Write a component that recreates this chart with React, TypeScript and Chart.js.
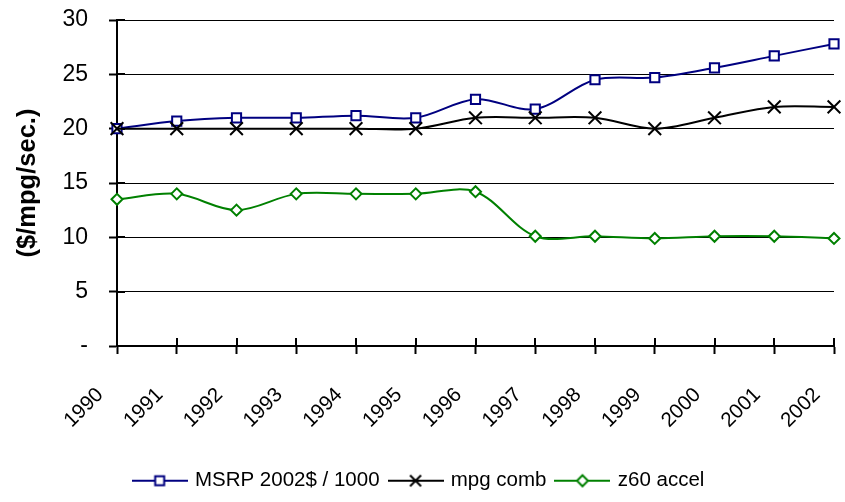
import React, { useEffect, useRef } from 'react';
import { Chart, registerables } from 'chart.js';

Chart.register(...registerables);

const years = ['1990', '1991', '1992', '1993', '1994', '1995', '1996', '1997', '1998', '1999', '2000', '2001', '2002'];
const msrp = [20.0, 20.7, 21.0, 21.0, 21.2, 21.0, 22.7, 21.8, 24.5, 24.7, 25.6, 26.7, 27.8];
const mpg = [20, 20, 20, 20, 20, 20, 21, 21, 21, 20, 21, 22, 22];
const z60 = [13.5, 14.0, 12.5, 14.0, 14.0, 14.0, 14.2, 10.1, 10.1, 9.9, 10.1, 10.1, 9.9];
const yTicks = [0, 5, 10, 15, 20, 25, 30];
const seriesNames = ['MSRP 2002$ / 1000', 'mpg comb', 'z60 accel'];
const yTitle = '($/mpg/sec.)';

const FONT = '"Liberation Sans", Arial, Helvetica, sans-serif';
const NAVY = '#000080';
const BLACK = '#000000';
const GREEN = '#008000';

function legendImage(color: string, style: string): HTMLCanvasElement {
  const c = document.createElement('canvas');
  c.width = 56;
  c.height = 16;
  const ctx = c.getContext('2d') as CanvasRenderingContext2D;
  ctx.strokeStyle = color;
  ctx.lineWidth = 2;
  ctx.beginPath();
  ctx.moveTo(0, 8);
  ctx.lineTo(56, 8);
  ctx.stroke();
  ctx.fillStyle = '#ffffff';
  ctx.beginPath();
  if (style === 'rect') {
    ctx.rect(23.5, 3.5, 9, 9);
    ctx.fill();
    ctx.stroke();
  } else if (style === 'rectRot') {
    ctx.moveTo(28, 2.5);
    ctx.lineTo(33.5, 8);
    ctx.lineTo(28, 13.5);
    ctx.lineTo(22.5, 8);
    ctx.closePath();
    ctx.fill();
    ctx.stroke();
  } else {
    ctx.moveTo(22.5, 2.5);
    ctx.lineTo(33.5, 13.5);
    ctx.moveTo(33.5, 2.5);
    ctx.lineTo(22.5, 13.5);
    ctx.stroke();
  }
  return c;
}

const innerTicks = {
  id: 'innerTicks',
  beforeDatasetsDraw(chart: any) {
    const { ctx, chartArea, scales } = chart;
    const xs = scales.x;
    const ys = scales.y;
    ctx.save();
    ctx.strokeStyle = '#000';
    ctx.lineWidth = 2;
    ctx.beginPath();
    for (let i = 0; i < xs.ticks.length; i++) {
      const x = Math.round(xs.getPixelForTick(i));
      ctx.moveTo(x, chartArea.bottom);
      ctx.lineTo(x, chartArea.bottom - 8);
    }
    for (let i = 0; i < ys.ticks.length; i++) {
      const y = Math.round(ys.getPixelForTick(i));
      ctx.moveTo(chartArea.left, y);
      ctx.lineTo(chartArea.left + 8, y);
    }
    ctx.stroke();
    ctx.restore();
  },
};

export default function App() {
  const ref = useRef<HTMLCanvasElement | null>(null);

  useEffect(() => {
    if (!ref.current) return;
    const imgs = [legendImage(NAVY, 'rect'), legendImage(BLACK, 'crossRot'), legendImage(GREEN, 'rectRot')];
    const chart = new Chart(ref.current, {
      type: 'line',
      data: {
        labels: years,
        datasets: [
          {
            label: seriesNames[0],
            data: msrp,
            borderColor: NAVY,
            backgroundColor: '#ffffff',
            borderWidth: 2,
            pointStyle: 'rect',
            pointRadius: 6.5,
            pointBorderWidth: 2,
            pointBorderColor: NAVY,
            pointBackgroundColor: '#ffffff',
            tension: 0.33,
            clip: false,
            order: 3,
          },
          {
            label: seriesNames[1],
            data: mpg,
            borderColor: BLACK,
            backgroundColor: '#ffffff',
            borderWidth: 2,
            pointStyle: 'crossRot',
            pointRadius: 9,
            pointBorderWidth: 2,
            pointBorderColor: BLACK,
            tension: 0.33,
            clip: false,
            order: 2,
          },
          {
            label: seriesNames[2],
            data: z60,
            borderColor: GREEN,
            backgroundColor: '#ffffff',
            borderWidth: 2,
            pointStyle: 'rectRot',
            pointRadius: 5.5,
            pointBorderWidth: 2,
            pointBorderColor: GREEN,
            pointBackgroundColor: '#ffffff',
            tension: 0.33,
            clip: false,
            order: 1,
          },
        ],
      } as any,
      options: {
        responsive: false,
        animation: false,
        devicePixelRatio: 1,
        layout: { padding: { left: 0, top: 20, right: 6, bottom: 1 } },
        plugins: {
          legend: {
            position: 'bottom',
            align: 'center',
            labels: {
              font: { size: 20.5, family: FONT },
              color: '#000',
              usePointStyle: true,
              pointStyleWidth: 50,
              padding: 11,
              generateLabels(c: any) {
                const items = (Chart.defaults.plugins.legend.labels as any).generateLabels(c);
                return items.map((it: any) => ({ ...it, pointStyle: imgs[it.datasetIndex], fontColor: '#000' }));
              },
              sort: (a: any, b: any) => a.datasetIndex - b.datasetIndex,
            },
          },
          tooltip: { enabled: false },
        },
        scales: {
          x: {
            type: 'category',
            offset: false,
            border: { display: true, color: '#000', width: 2 },
            grid: { display: true, drawOnChartArea: false, drawTicks: true, tickLength: 8, tickWidth: 2, tickColor: '#000' },
            ticks: {
              autoSkip: false,
              maxRotation: 45,
              minRotation: 45,
              padding: 29,
              labelOffset: -17,
              font: { size: 20.5, family: FONT },
              color: '#000',
            },
            afterFit(s: any) {
              s.height = 113.5;
              s.paddingLeft = 0;
              s.paddingRight = 0;
            },
          },
          y: {
            min: 0,
            max: 30,
            border: { display: true, color: '#000', width: 2 },
            grid: { color: '#000', lineWidth: 1, tickLength: 8, tickWidth: 2, tickColor: '#000' },
            afterBuildTicks(s: any) {
              s.ticks = yTicks.map((v) => ({ value: v }));
            },
            ticks: {
              padding: 21,
              font: { size: 23, family: FONT },
              color: '#000',
              callback: (v: any) => (Number(v) === 0 ? '-' : String(v)),
            },
            title: {
              display: true,
              text: yTitle,
              font: { size: 25.5, weight: 'bold', family: FONT },
              color: '#000',
              padding: { top: 13, bottom: 0 },
            },
            afterFit(s: any) {
              s.width = 117;
              s.paddingTop = 0;
              s.paddingBottom = 0;
            },
          },
        },
      } as any,
      plugins: [innerTicks],
    });
    return () => chart.destroy();
  }, []);

  return (
    <div style={{ position: 'fixed', left: 0, top: 0, width: 845, height: 502, background: '#ffffff' }}>
      <canvas ref={ref} width={845} height={502} style={{ width: 845, height: 502, display: 'block' }} />
    </div>
  );
}
